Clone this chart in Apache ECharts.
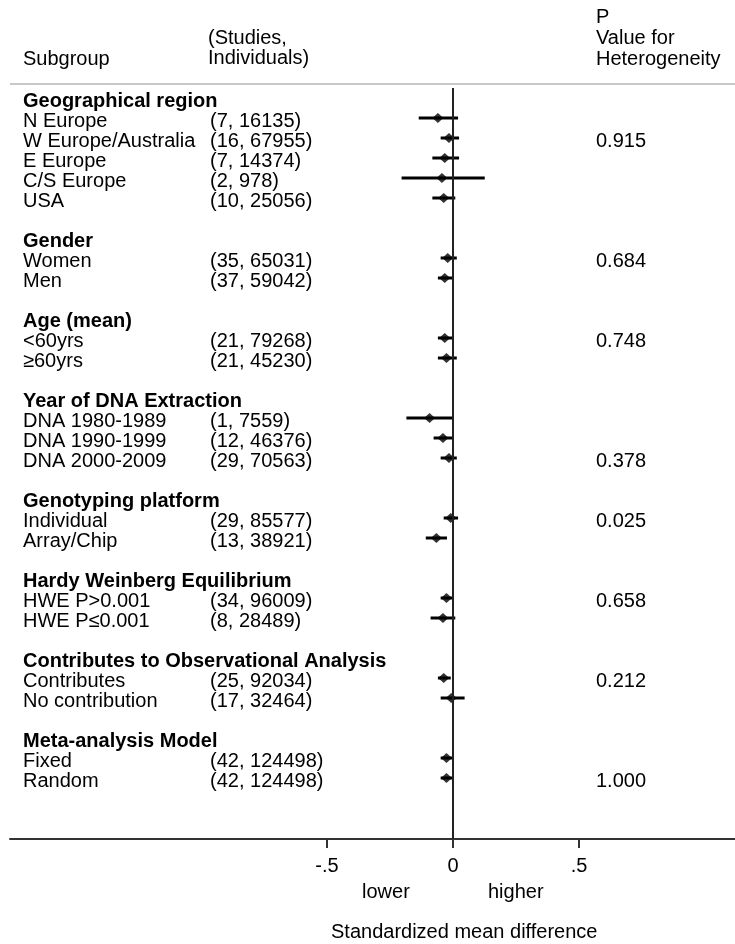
<!DOCTYPE html>
<html>
<head>
<meta charset="utf-8">
<script src="https://cdn.jsdelivr.net/npm/echarts@6/dist/echarts.min.js"></script>
<style>
html,body{margin:0;padding:0;background:#fff;}
#container1{width:735px;height:944px;}
</style>
</head>
<body>
<div id="container1"></div>
<script>
// 分组标题及其所在行
var headers = ['Geographical region', 'Gender', 'Age (mean)', 'Year of DNA Extraction',
	'Genotyping platform', 'Hardy Weinberg Equilibrium', 'Contributes to Observational Analysis', 'Meta-analysis Model'];
var headerRows = [0, 7, 11, 15, 20, 24, 28, 32];

// 亚组
var subgroups = ['N Europe', 'W Europe/Australia', 'E Europe', 'C/S Europe', 'USA',
	'Women', 'Men', '<60yrs', '≥60yrs',
	'DNA 1980-1989', 'DNA 1990-1999', 'DNA 2000-2009',
	'Individual', 'Array/Chip', 'HWE P>0.001', 'HWE P≤0.001',
	'Contributes', 'No contribution', 'Fixed', 'Random'];
var subgroupRows = [1, 2, 3, 4, 5, 8, 9, 12, 13, 16, 17, 18, 21, 22, 25, 26, 29, 30, 33, 34];
var counts = ['(7, 16135)', '(16, 67955)', '(7, 14374)', '(2, 978)', '(10, 25056)',
	'(35, 65031)', '(37, 59042)', '(21, 79268)', '(21, 45230)',
	'(1, 7559)', '(12, 46376)', '(29, 70563)',
	'(29, 85577)', '(13, 38921)', '(34, 96009)', '(8, 28489)',
	'(25, 92034)', '(17, 32464)', '(42, 124498)', '(42, 124498)'];
var pValues = ['', '0.915', '', '', '', '0.684', '', '0.748', '', '', '', '0.378',
	'0.025', '', '0.658', '', '0.212', '', '', '1.000'];

// 效应值及95%置信区间
var estimates = [-0.060, -0.016, -0.033, -0.044, -0.037, -0.021, -0.033, -0.033, -0.026,
	-0.093, -0.040, -0.016, -0.009, -0.066, -0.026, -0.040, -0.037, -0.007, -0.026, -0.026];
var lower = [-0.136, -0.049, -0.082, -0.204, -0.082, -0.049, -0.060, -0.060, -0.060,
	-0.185, -0.077, -0.049, -0.037, -0.108, -0.049, -0.089, -0.060, -0.049, -0.049, -0.049];
var upper = [0.020, 0.024, 0.024, 0.126, 0.009, 0.015, -0.003, -0.003, 0.015,
	0.000, -0.003, 0.015, 0.020, -0.024, -0.003, 0.009, -0.009, 0.046, -0.003, -0.003];

var xTicks = [-0.5, 0, 0.5];
var xTickLabels = ['-.5', '0', '.5'];

var FONT = "'Liberation Sans', Arial, sans-serif";

window.onload = function () {
	draw();
};

function draw() {
	var dom = document.getElementById("container1");
	var myChart = echarts.init(dom);

	// 行号 -> 文字
	var rowText = {};
	headers.forEach(function (h, i) {
		rowText[headerRows[i]] = '{h|' + h + '}';
	});
	subgroups.forEach(function (s, i) {
		var t = '{a|' + s + '}{b|' + counts[i] + '}';
		if (pValues[i]) t += '{c|' + pValues[i] + '}';
		rowText[subgroupRows[i]] = t;
	});
	var labelRows = headerRows.concat(subgroupRows).sort(function (a, b) { return a - b; });

	var points = [], ci = [];
	for (var i = 0; i < subgroups.length; i++) {
		points.push([estimates[i], subgroupRows[i]]);
		ci.push([lower[i], upper[i], subgroupRows[i]]);
	}

	var option = {
		animation: false,
		backgroundColor: '#fff',
		textStyle: { fontFamily: FONT },
		grid: {
			left: 10,
			right: 0,
			top: 88,
			height: 751
		},
		graphic: [
			{ type: 'line', shape: { x1: 10, y1: 84, x2: 735, y2: 84 }, style: { stroke: '#c8c8c8', lineWidth: 2 } },
			{ type: 'text', left: 23, top: 49, style: { text: 'Subgroup', font: '20px ' + FONT, fill: '#000' } },
			{ type: 'text', left: 208, top: 28, style: { text: '(Studies,\nIndividuals)', font: '20px ' + FONT, lineHeight: 20, fill: '#000' } },
			{ type: 'text', left: 596, top: 7, style: { text: 'P\nValue for\nHeterogeneity', font: '20px ' + FONT, lineHeight: 21, fill: '#000' } },
			{ type: 'text', left: 362, top: 882, style: { text: 'lower', font: '20px ' + FONT, fill: '#000' } },
			{ type: 'text', left: 488, top: 882, style: { text: 'higher', font: '20px ' + FONT, fill: '#000' } },
			{ type: 'text', left: 331, top: 922, style: { text: 'Standardized mean difference', font: '20px ' + FONT, fill: '#000' } }
		],
		xAxis: {
			type: 'value',
			position: 'bottom',
			min: -1.758,
			max: 1.119,
			axisLine: { onZero: false, lineStyle: { color: '#333', width: 2 } },
			axisTick: { customValues: xTicks, length: 9, lineStyle: { color: '#333', width: 2 } },
			axisLabel: {
				customValues: xTicks,
				margin: 17,
				fontSize: 20,
				color: '#000',
				fontFamily: FONT,
				formatter: function (v) { return xTickLabels[xTicks.indexOf(v)]; }
			},
			splitLine: { show: false }
		},
		yAxis: {
			type: 'value',
			inverse: true,
			min: -0.5,
			max: 37.05,
			axisLine: { show: false, onZero: false },
			axisTick: { show: false },
			splitLine: { show: false },
			axisLabel: {
				inside: true,
				margin: 13,
				customValues: labelRows,
				padding: [7, 0, 0, 0],
				formatter: function (v) { return rowText[v] || ''; },
				rich: {
					h: { fontSize: 20, fontWeight: 'bold', color: '#000', fontFamily: FONT },
					a: { fontSize: 20, width: 187, color: '#000', fontFamily: FONT },
					b: { fontSize: 20, width: 386, color: '#000', fontFamily: FONT },
					c: { fontSize: 20, color: '#000', fontFamily: FONT }
				}
			}
		},
		series: [
			//置信区间
			{
				type: 'custom',
				data: ci,
				encode: { x: [0, 1], y: 2 },
				renderItem: function (params, api) {
					var a = api.coord([api.value(0), api.value(2)]);
					var b = api.coord([api.value(1), api.value(2)]);
					return {
						type: 'line',
						shape: { x1: a[0], y1: a[1], x2: b[0], y2: b[1] },
						style: { stroke: '#000', lineWidth: 3 }
					};
				},
				silent: true
			},
			//点估计
			{
				type: 'scatter',
				data: points,
				symbol: 'diamond',
				symbolSize: [11, 10],
				itemStyle: { color: '#000' },
				silent: true,
				z: 3,
				markLine: {
					silent: true,
					symbol: 'none',
					label: { show: false },
					lineStyle: { color: '#222', width: 2, type: 'solid' },
					data: [{ xAxis: 0 }]
				}
			}
		]
	};

	myChart.setOption(option, true);
}
</script>
</body>
</html>
